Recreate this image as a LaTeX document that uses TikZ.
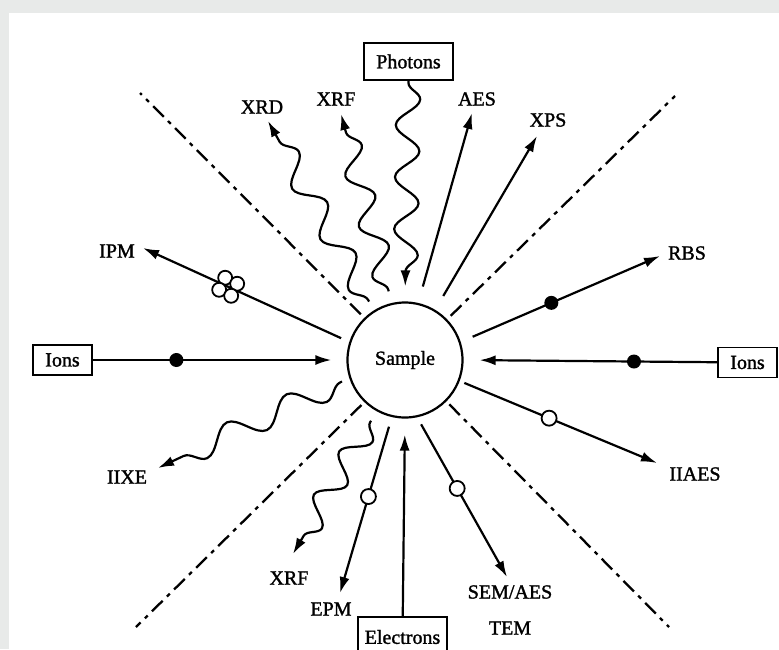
\documentclass[tikz,border=0pt]{standalone}
\usepackage{fontspec}
\setmainfont{Liberation Serif}
\newfontfamily\scanfont{Liberation Serif}[FakeBold=1.4]
\usetikzlibrary{calc, arrows.meta, positioning, decorations.pathmorphing}
\definecolor{scanbg}{HTML}{E8EAE9}
\tikzset{
  beam/.style={-{Latex[length=16pt,width=10pt]}, line width=2.2pt},
  wave/.style={beam, decorate, decoration={snake, segment length=#1, amplitude=12pt, pre length=2pt, post length=12pt}},
  wave/.default=52pt,
  divider/.style={line width=2.3pt, dash pattern=on 15pt off 6pt on 4pt off 6pt},
  probe/.style={draw, line width=1.8pt, inner sep=0pt, font=\scanfont\fontsize{20}{22}\selectfont},
  tag/.style={inner sep=1pt, font=\scanfont\fontsize{20}{22}\selectfont},
  fulldot/.style={circle, fill, inner sep=0pt, minimum size=14pt},
  opendot/.style={circle, draw, fill=white, line width=1.8pt, inner sep=0pt, minimum size=15pt}
}

\begin{document}
\begin{tikzpicture}[x=1pt, y=-1pt]
  \useasboundingbox (0,0) rectangle (779,649);
  \clip (0,0) rectangle (779,649);
  \fill[scanbg] (0,0) rectangle (779,649);
  \fill[white] (9,13) rectangle (779,649);

  % sample and the probe sources
  \node[circle, draw, line width=2.2pt, minimum size=115pt, tag] (sample) at (405,360) {Sample};
  \node[probe, minimum width=89pt, minimum height=37pt] (photons) at (408.5,61.5) {Photons};
  \node[probe, minimum width=59pt, minimum height=30pt] (ionsL) at (62.5,360) {Ions};
  \node[probe, minimum width=59pt, minimum height=30pt] (ionsR) at (747.5,362.5) {Ions};
  \node[probe, minimum width=89pt, minimum height=40pt] (electrons) at (402.5,637) {Electrons};

  % technique labels
  \node[tag] (xrd) at (262,107) {XRD};
  \node[tag] (xrfup) at (336,99) {XRF};
  \node[tag] (aes) at (477,99) {AES};
  \node[tag] (xps) at (548,120) {XPS};
  \node[tag] (ipm) at (117,251) {IPM};
  \node[tag] (rbs) at (687,253) {RBS};
  \node[tag] (iixe) at (127,477) {IIXE};
  \node[tag] (iiaes) at (695,474) {IIAES};
  \node[tag] (xrfdown) at (289,578) {XRF};
  \node[tag] (epm) at (331,609) {EPM};
  \node[tag] (semaes) at (510,592) {SEM/AES};
  \node[tag] (tem) at (510,628) {TEM};

  % arrow tips and divider ends
  \coordinate (xrdtip) at (268,121);
  \coordinate (xrfuptip) at (341,114);
  \coordinate (aestip) at (472,113);
  \coordinate (xpstip) at (537,136);
  \coordinate (ipmtip) at (143,248);
  \coordinate (rbstip) at (660,256);
  \coordinate (iixetip) at (158,468);
  \coordinate (iiaestip) at (657,463);
  \coordinate (xrfdowntip) at (293,554);
  \coordinate (epmtip) at (340,593);
  \coordinate (semtip) at (507,577);
  \coordinate (ulend) at (140,93);
  \coordinate (urend) at (675,96);
  \coordinate (llend) at (136,627);
  \coordinate (lrend) at (669,627);

  % dash-dot sectors
  \draw[divider] ($(sample.134)!5pt!(ulend)$) -- (ulend);
  \draw[divider] ($(sample.44)!5pt!(urend)$) -- (urend);
  \draw[divider] ($(sample.226)!4pt!(llend)$) -- (llend);
  \draw[divider] ($(sample.315)!4pt!(lrend)$) -- (lrend);

  % photons
  \draw[wave] (photons.south) -- ($(sample.90)!15pt!(photons.south)$);
  \draw[wave] ($(sample.103)!12pt!(xrfuptip)$) -- (xrfuptip);
  \draw[wave=58pt] ($(sample.122)!10pt!(xrdtip)$) -- (xrdtip);
  \draw[beam] ($(sample.77)!17pt!(aestip)$) -- (aestip);
  \draw[beam] ($(sample.59)!16pt!(xpstip)$) -- (xpstip);

  % ions
  \draw[beam] ($(sample.162)!9pt!(ipmtip)$) -- coordinate[pos=0.57] (ipmmark) (ipmtip);
  \foreach \dx/\dy in {-3/-9, 9/-3, -9/3, 3/9}
    \draw[line width=1.8pt, fill=white] ($(ipmmark)+(\dx,\dy)$) circle (7);
  \draw[beam] ($(sample.18)!13pt!(rbstip)$) -- node[fulldot, pos=0.42] (rbsdot) {} (rbstip);
  \draw[beam] (ionsL) -- node[fulldot, pos=0.35] (ionsLdot) {} ($(sample.180)!15pt!(ionsL)$);
  \draw[beam] (ionsR) -- node[fulldot, pos=0.35] (ionsRdot) {} ($(sample.0)!16pt!(ionsR)$);
  \draw[beam] ($(sample.-21)!5pt!(iiaestip)$) -- node[opendot, pos=0.44] (iiaesdot) {} (iiaestip);
  \draw[wave=66pt] ($(sample.198)!8pt!(iixetip)$) -- (iixetip);

  % electrons
  \draw[wave=50pt] ($(sample.241)!11pt!(xrfdowntip)$) -- (xrfdowntip);
  \draw[beam] ($(sample.257)!10pt!(epmtip)$) -- node[opendot, pos=0.42] (epmdot) {} (epmtip);
  \draw[beam] (electrons) -- ($(sample.270)!16pt!(electrons)$);
  \draw[beam] ($(sample.282)!8pt!(semtip)$) -- node[opendot, pos=0.42] (semdot) {} (semtip);
\end{tikzpicture}
\end{document}
